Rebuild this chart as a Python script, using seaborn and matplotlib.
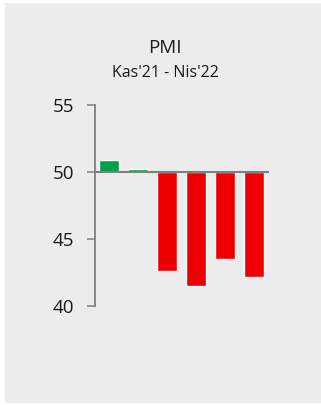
import matplotlib
matplotlib.use("Agg")
import matplotlib.pyplot as plt
from matplotlib.patches import Rectangle
import seaborn as sns
import pandas as pd

months = ["Kas'21", "Ara'21", "Oca'22", "Şub'22", "Mar'22", "Nis'22"]
pmi = [50.9, 50.2, 42.6, 41.5, 43.5, 42.2]
threshold = 50
title = "PMI"
subtitle = "Kas'21 - Nis'22"
yticks = [40, 45, 50, 55]

sns.set_style("white")
plt.rcParams["font.family"] = ["Open Sans", "DejaVu Sans"]

W, H = 321, 405
fig = plt.figure(figsize=(W / 100, H / 100), dpi=100, facecolor="white")
fig.patches.append(Rectangle((5 / W, 2 / H), 316 / W, 400 / H,
                             transform=fig.transFigure, facecolor="#ececec",
                             edgecolor="none", zorder=-10))

ax = fig.add_axes([95 / W, 1 - 306.3 / H, (268.7 - 95) / W, (306.3 - 105) / H])
ax.set_facecolor("none")

df = pd.DataFrame({"month": months, "pmi": pmi})
df["delta"] = df["pmi"] - threshold
df["side"] = ["up" if v >= threshold else "down" for v in df["pmi"]]

sns.barplot(data=df, x="month", y="delta", hue="side",
            palette={"up": "#00a14b", "down": "#ee0000"},
            bottom=threshold, width=0.69, dodge=False, legend=False,
            saturation=1, ax=ax, zorder=2)

ax.axhline(threshold, color="#7f7f7f", lw=1.5, zorder=3)
ax.set_xlim(-0.5, 5.5)
ax.set_ylim(40, 55)
ax.set_yticks(yticks)
ax.set_xticks([])
ax.set_xlabel("")
ax.set_ylabel("")
for s in ["top", "right", "bottom"]:
    ax.spines[s].set_visible(False)
ax.spines["left"].set_color("#7f7f7f")
ax.spines["left"].set_linewidth(1.3)
ax.tick_params(axis="y", left=True, direction="out", length=5.5, width=1.1,
               color="#7f7f7f", pad=9.5, labelsize=13.5, labelcolor="#1a1a1a")

fig.text(165 / W, 1 - 48 / H, title, ha="center", va="center",
         fontsize=13.5, color="#1a1a1a")
fig.text(165 / W, 1 - 73 / H, subtitle, ha="center", va="center",
         fontsize=11.5, color="#1a1a1a")

fig.savefig("out.png", dpi=100, facecolor="white")
